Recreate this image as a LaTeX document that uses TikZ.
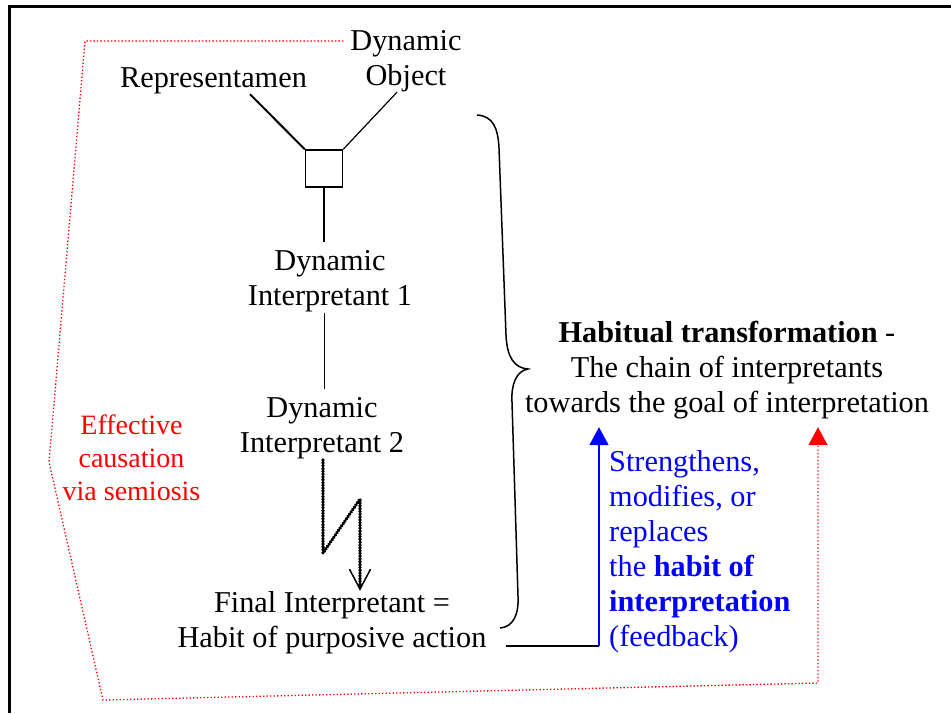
\documentclass[tikz,border=0pt]{standalone}
\usepackage{fontspec}
\setmainfont{Liberation Serif}
\usetikzlibrary{arrows.meta,calc}
\definecolor{pblue}{RGB}{0,0,255}
\definecolor{pred}{RGB}{255,0,0}
\newcommand\ms{\rule[-7pt]{0pt}{35pt}}
\newcommand\rs{\rule[-6.5pt]{0pt}{33pt}}
\tikzset{
  txt/.style={inner sep=0pt, align=center, font=\fontsize{30.3}{35}\selectfont},
  redtxt/.style={inner sep=0pt, align=center, text=pred, font=\fontsize{28}{33}\selectfont},
  bluetxt/.style={inner sep=0pt, align=left, text=pblue, font=\fontsize{30.3}{35}\selectfont},
  reddot/.style={draw=pred, line width=1.3pt, dash pattern=on 1.3pt off 2.2pt},
  zig/.style={line width=3.2pt, dash pattern=on 0.8pt off 2pt, line cap=round},
  semibox/.style={draw, line width=1.5pt, minimum size=37pt, inner sep=0pt},
  fbtip/.style={-{Triangle[width=19pt,length=18pt]}}
}
\begin{document}
\begin{tikzpicture}[x=1pt,y=-1pt]
\useasboundingbox (0,0) rectangle (951,713);
% frame (top and left only)
\draw[line width=3pt] (9,713) -- (9,6.5) -- (951,6.5);

% nodes
\node[txt] (rep) at (213.5,76.5) {Representamen\ms};
\node[txt] (obj) at (406,57) {Dynamic\ms\\Object\ms};
\node[semibox] (sq) at (324,168.5) {};
\node[txt] (di1) at (330,277.5) {Dynamic\ms\\Interpretant 1\ms};
\node[txt] (di2) at (322,424.5) {Dynamic\ms\\Interpretant 2\ms};
\node[txt] (fin) at (332,619) {Final Interpretant =\ms\\Habit of purposive action\ms};
\node[txt] (hab) at (727,366.5) {\textbf{Habitual transformation} -\ms\\The chain of interpretants\ms\\towards the goal of interpretation\ms};
\node[redtxt] (eff) at (131.5,457) {Effective\rs\\causation\rs\\via semiosis\rs};
\node[bluetxt, anchor=north west] (fbk) at (609,443) {Strengthens,\ms\\modifies, or\ms\\replaces\ms\\the \textbf{habit of}\ms\\\textbf{interpretation}\ms\\(feedback)\ms};

% connectors
\draw[line width=2pt] (rep.south -| 250,0) -- (sq.north west);
\draw[line width=1.2pt] (obj.south -| 397,0) -- (sq.north east);
\draw[line width=1.8pt] (sq.south) -- (di1.north -| sq.south);
\draw[line width=1pt] (di1.south -| 324,0) -- (di2.north -| 324,0);

\coordinate (z1) at (323,553);
\coordinate (z2) at (360,499);
\draw[zig, -{Straight Barb[length=20pt,width=21pt,line width'=1.5pt]}]
  (di2.south -| 323,0) -- (z1) -- (z2) -- ($(fin.north -| z2)+(0,7)$);

\coordinate (fb) at (599,646);
\draw[line width=1.7pt] ($(fin.east |- fb)+(19,0)$) -- (fb);
\draw[pblue, line width=1.8pt, fbtip] (fb) -- ($(hab.south -| fb)+(0,8)$);

\draw[reddot, fbtip]
  ($(obj.west |- 0,41)+(-7,0)$) -- (85,41) -- (49,462) -- (103,700) -- (818,683)
  -- ($(hab.south -| 818,0)+(0,8)$);

% brace
\draw[line width=1.5pt] (477,115) .. controls (493,116) and (498,128) .. (499,148)
  -- (506,335) .. controls (507,357) and (514,368) .. (528,369)
  .. controls (516,371) and (511,385) .. (512,402)
  -- (518,596) .. controls (519,615) and (513,627) .. (500,628);
\end{tikzpicture}
\end{document}
